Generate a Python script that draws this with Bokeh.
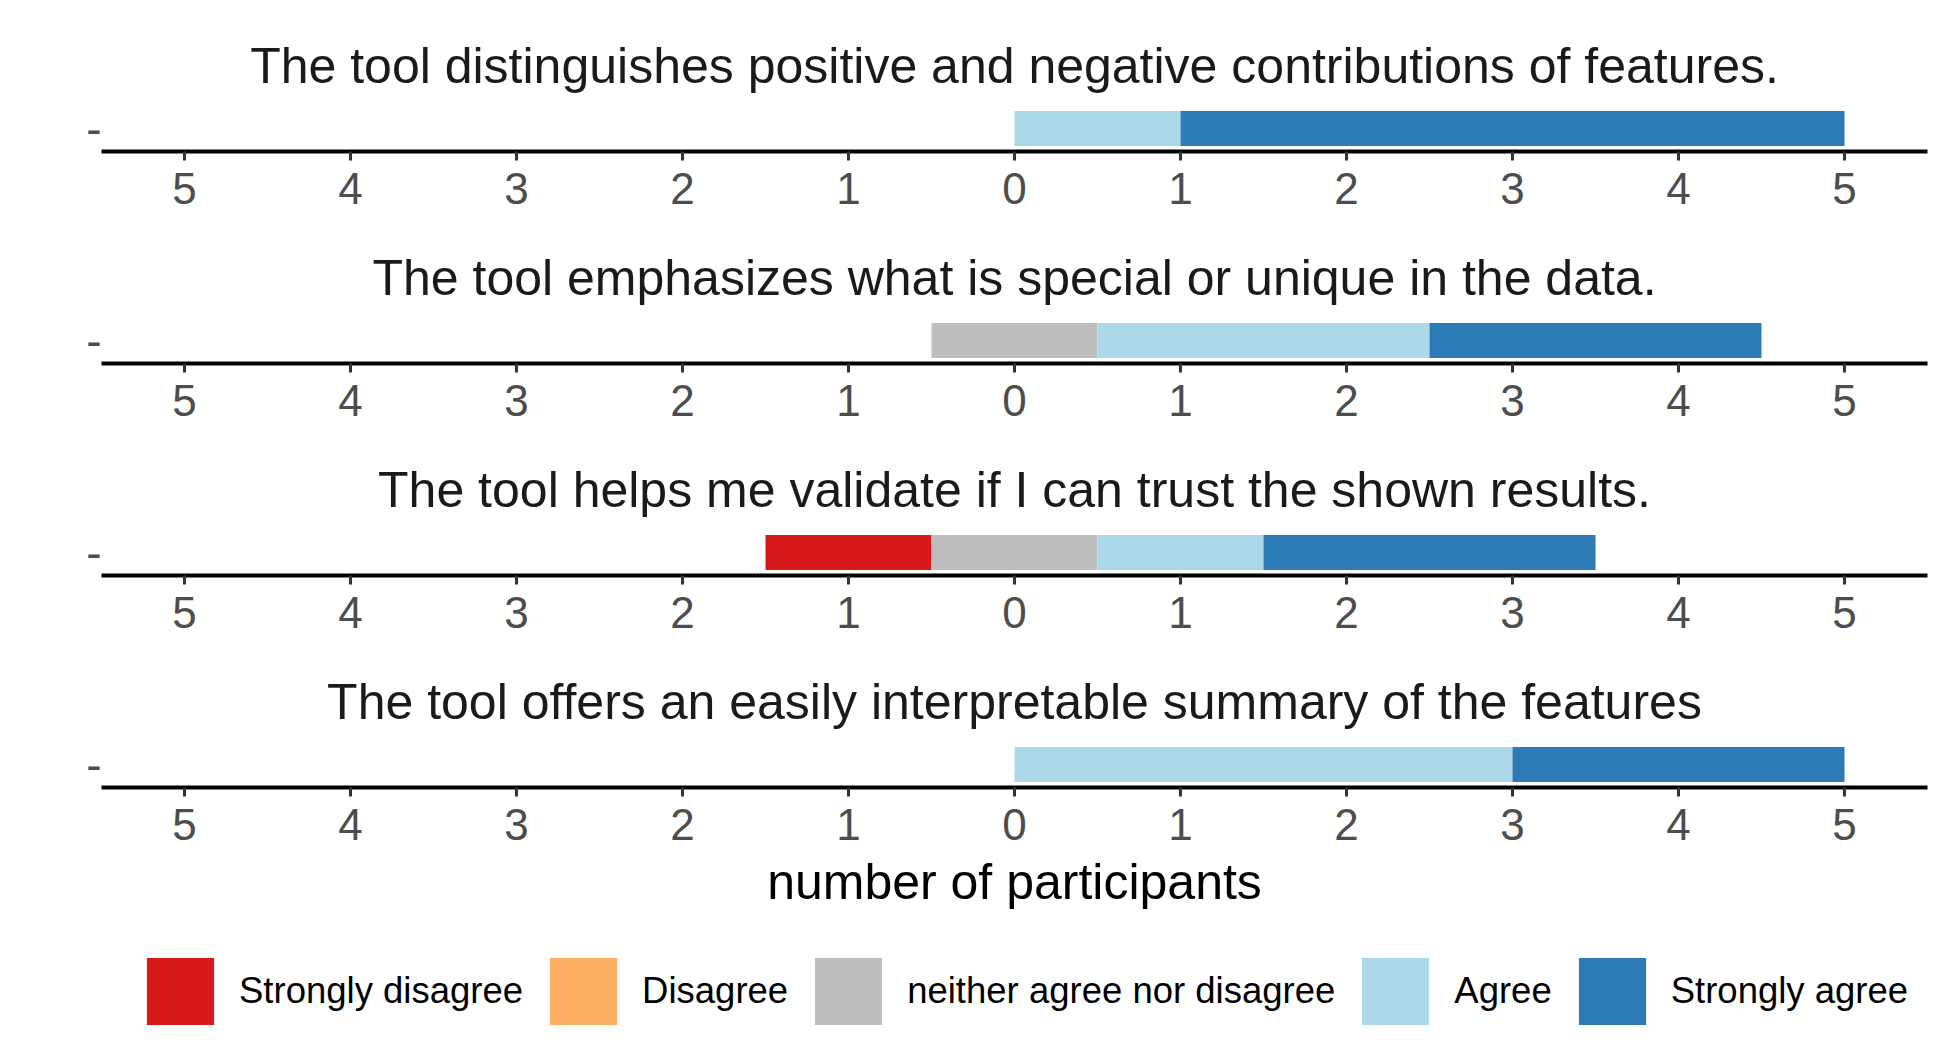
from bokeh.plotting import figure
from bokeh.layouts import column
from bokeh.models import ColumnDataSource, FactorRange, Range1d, FixedTicker, Legend, LegendItem
from bokeh.embed import file_html
from bokeh.resources import INLINE

questions = [
    "The tool distinguishes positive and negative contributions of features.",
    "The tool emphasizes what is special or unique in the data.",
    "The tool helps me validate if I can trust the shown results.",
    "The tool offers an easily interpretable summary of the features",
]
categories = ["Strongly disagree", "Disagree", "neither agree nor disagree", "Agree", "Strongly agree"]
colors = ["#D7191C", "#FDAE61", "#BEBEBE", "#ABD9E9", "#2C7BB6"]
strongly_disagree = [0, 0, 1, 0]
disagree = [0, 0, 0, 0]
neutral = [0, 1, 1, 0]
agree = [1, 2, 1, 3]
strongly_agree = [4, 2, 2, 2]
tick_values = [-5, -4, -3, -2, -1, 0, 1, 2, 3, 4, 5]
tick_labels = ["5", "4", "3", "2", "1", "0", "1", "2", "3", "4", "5"]
y_label = "-"
x_title = "number of participants"

FONT = "Liberation Sans"
W = 1940
LEFT = 101
FRAME_W = 1826
RIGHT = W - LEFT - FRAME_W
TOP = 105
FRAME_H = 46

figs = []
n_q = len(questions)
for i, q in enumerate(questions):
    last = i == n_q - 1
    h = 290 if last else 212
    p = figure(width=W, height=h, x_range=Range1d(-5.5, 5.5),
               y_range=FactorRange(factors=[y_label]),
               output_backend="svg", toolbar_location=None,
               min_border_left=LEFT, min_border_right=RIGHT,
               min_border_top=TOP, min_border_bottom=h - TOP - FRAME_H)
    p.outline_line_color = None
    p.xgrid.visible = False
    p.ygrid.visible = False
    p.background_fill_color = "white"
    p.border_fill_color = "white"

    p.title.text = q
    p.title.align = "center"
    p.title.text_font = FONT
    p.title.text_font_size = "50px"
    p.title.text_font_style = "normal"
    p.title.text_color = "#1A1A1A"
    p.title.standoff = 23

    counts = [strongly_disagree[i], disagree[i], neutral[i], agree[i], strongly_agree[i]]
    start = -(counts[0] + counts[1] + counts[2] / 2.0)
    cum = start
    for j, c in enumerate(counts):
        if c > 0:
            src = ColumnDataSource(dict(y=[y_label], left=[cum], right=[cum + c]))
            p.hbar(y="y", left="left", right="right", height=0.76, source=src,
                   fill_color=colors[j], line_color=None)
        cum += c

    xa = p.xaxis[0]
    xa.ticker = FixedTicker(ticks=tick_values)
    xa.major_label_overrides = {v: l for v, l in zip(tick_values, tick_labels)}
    xa.axis_line_color = "black"
    xa.axis_line_width = 4
    xa.major_tick_line_color = "#333333"
    xa.major_tick_line_width = 3
    xa.major_tick_out = 9
    xa.major_tick_in = 0
    xa.minor_tick_line_color = None
    xa.major_label_text_font = FONT
    xa.major_label_text_font_size = "44px"
    xa.major_label_text_color = "#4D4D4D"
    xa.major_label_standoff = 12

    ya = p.yaxis[0]
    ya.axis_line_color = None
    ya.major_tick_line_color = None
    ya.major_tick_out = 0
    ya.major_tick_in = 0
    ya.minor_tick_line_color = None
    ya.major_label_text_font = FONT
    ya.major_label_text_font_size = "46px"
    ya.major_label_text_color = "#4D4D4D"
    ya.major_label_standoff = 0

    if last:
        xa.axis_label = x_title
        xa.axis_label_text_font = FONT
        xa.axis_label_text_font_size = "50px"
        xa.axis_label_text_font_style = "normal"
        xa.axis_label_text_color = "black"
        xa.axis_label_standoff = 11
    figs.append(p)

# legend panel (frame is aligned with the panels above by the column layout)
LH = 120
lp = figure(width=W, height=LH, x_range=Range1d(0, 1), y_range=Range1d(0, 1),
            output_backend="svg", toolbar_location=None, title=None,
            x_axis_type=None, y_axis_type=None,
            min_border_left=LEFT, min_border_right=RIGHT, min_border_top=0, min_border_bottom=0)
lp.outline_line_color = None
lp.xgrid.visible = False
lp.ygrid.visible = False
items = []
for c, col in zip(categories, colors):
    src = ColumnDataSource(dict(y=[0.5], left=[0], right=[0]))
    r = lp.hbar(y="y", left="left", right="right", height=1, source=src,
                fill_color=col, line_color=None)
    items.append(LegendItem(label=c, renderers=[r]))
leg = Legend(items=items, orientation="horizontal", location=(138 - LEFT, 13),
             glyph_width=84, glyph_height=84, label_standoff=17, spacing=18,
             label_text_font=FONT, label_text_font_size="36.5px", label_text_color="black",
             border_line_color=None, background_fill_alpha=0, padding=0, margin=0)
lp.add_layout(leg)
figs.append(lp)

layout = column(*figs, spacing=0)
open("out.html", "w").write(file_html(layout, INLINE))
